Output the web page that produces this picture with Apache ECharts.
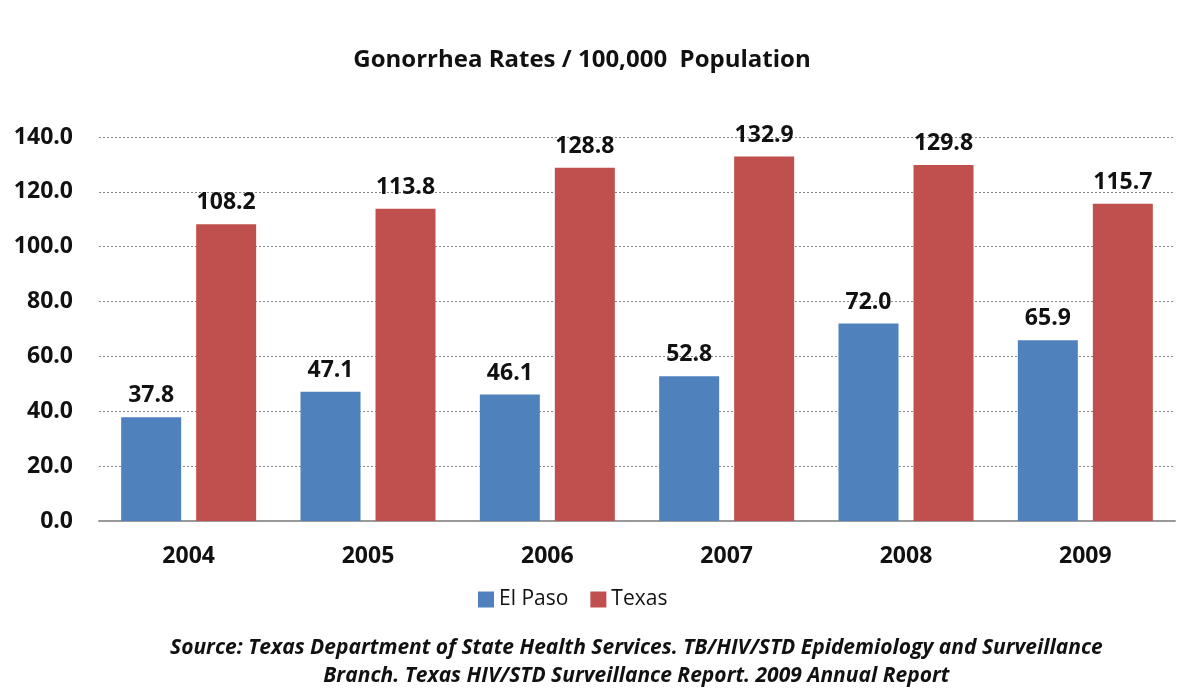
<!DOCTYPE html>
<html>
<head>
<meta charset="utf-8">
<script src="https://cdn.jsdelivr.net/npm/echarts@6/dist/echarts.min.js"></script>
<style>
  html, body { margin: 0; padding: 0; background: #fff; }
  #chart { width: 1192px; height: 696px; }
</style>
</head>
<body>
<div id="chart"></div>
<script>
// data
const years = ['2004', '2005', '2006', '2007', '2008', '2009']
const elPaso = [37.8, 47.1, 46.1, 52.8, 72.0, 65.9]
const texas = [108.2, 113.8, 128.8, 132.9, 129.8, 115.7]

const font = '"Open Sans", sans-serif'
const chart = echarts.init(document.getElementById('chart'))

const labelStyle = {
  show: true,
  position: 'top',
  distance: 10,
  formatter: p => p.value.toFixed(1),
  color: '#111',
  fontFamily: font,
  fontWeight: 'bold',
  fontSize: 23
}

chart.setOption({
  animation: false,
  backgroundColor: '#fff',
  title: {
    text: 'Gonorrhea Rates / 100,000  Population',
    left: 577,
    textAlign: 'center',
    top: 43,
    textStyle: { fontFamily: font, fontWeight: 'bold', fontSize: 24, color: '#111' }
  },
  graphic: [{
    type: 'text',
    left: 170,
    top: 634,
    style: {
      text: 'Source: Texas Department of State Health Services. TB/HIV/STD Epidemiology and Surveillance\nBranch. Texas HIV/STD Surveillance Report. 2009 Annual Report',
      textAlign: 'center',
      font: 'italic bold 21px ' + font,
      lineHeight: 28,
      fill: '#111'
    }
  }],
  legend: {
    top: 584,
    left: 473,
    itemWidth: 16,
    itemHeight: 16,
    itemGap: 22,
    icon: 'rect',
    textStyle: { fontFamily: font, fontSize: 21, color: '#111' },
    data: ['El Paso', 'Texas']
  },
  grid: { left: 99, right: 17, top: 137, bottom: 175 },
  xAxis: {
    type: 'category',
    data: years,
    axisTick: { show: false },
    axisLine: { lineStyle: { color: '#999', width: 2 } },
    axisLabel: {
      margin: 24,
      color: '#111',
      fontFamily: font,
      fontWeight: 'bold',
      fontSize: 23
    }
  },
  yAxis: {
    type: 'value',
    min: 0,
    max: 140,
    interval: 20,
    axisLine: { show: false },
    axisTick: { show: false },
    axisLabel: {
      margin: 26,
      formatter: v => v.toFixed(1),
      color: '#111',
      fontFamily: font,
      fontWeight: 'bold',
      fontSize: 23
    },
    splitLine: { lineStyle: { color: '#888', type: [2, 2], width: 1 } }
  },
  series: [{
    name: 'El Paso',
    type: 'bar',
    data: elPaso,
    barWidth: 60,
    barGap: '25%',
    itemStyle: { color: '#4F81BD' },
    label: labelStyle
  }, {
    name: 'Texas',
    type: 'bar',
    data: texas,
    barWidth: 60,
    itemStyle: { color: '#C0504D' },
    label: labelStyle
  }]
})
</script>
</body>
</html>
